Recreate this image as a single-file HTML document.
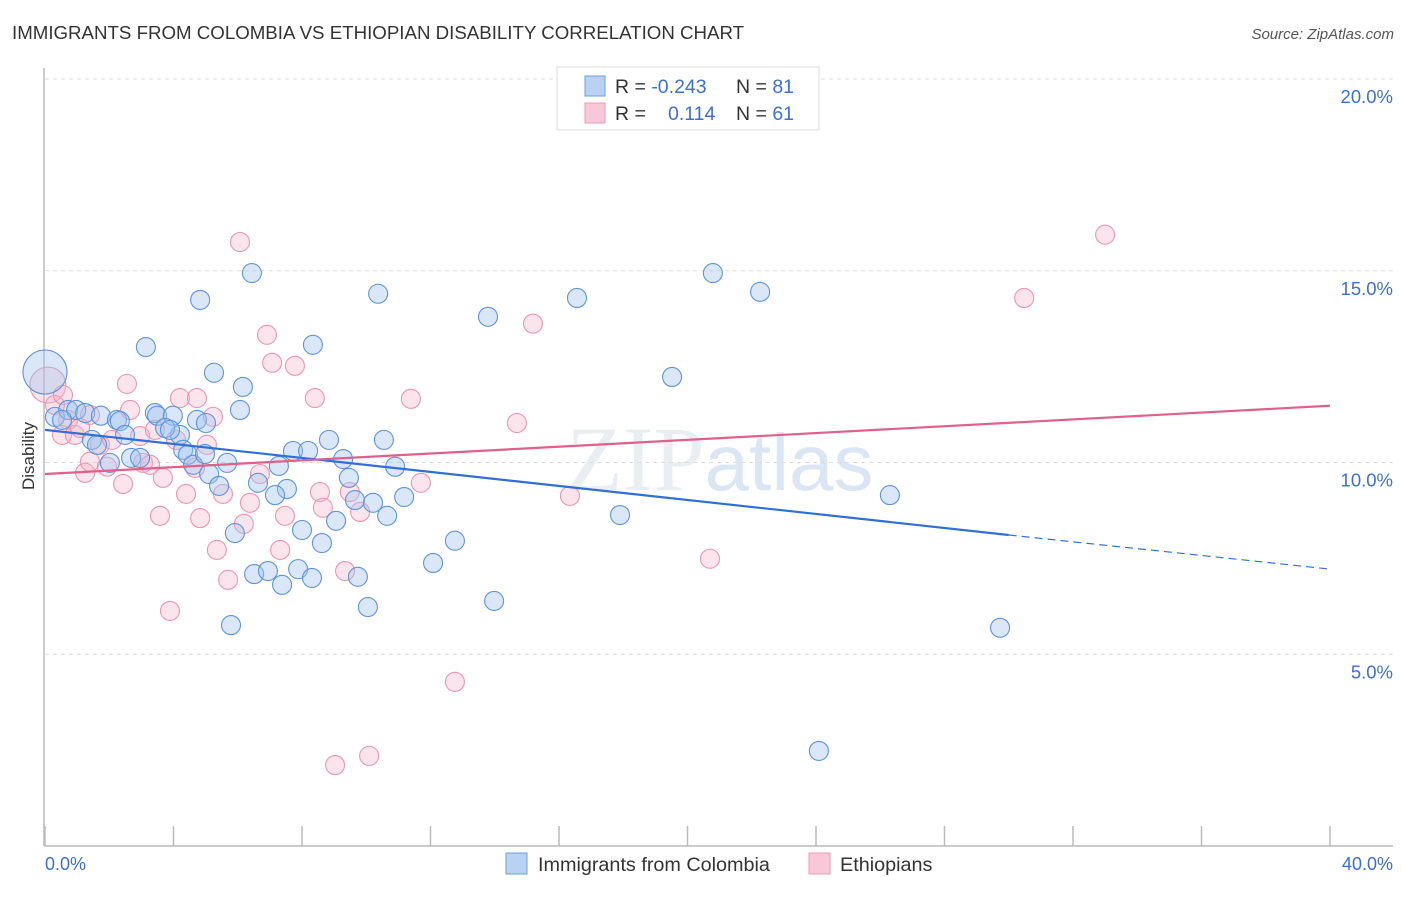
<!DOCTYPE html>
<html><head><meta charset="utf-8"><style>
body{margin:0;background:#fff;font-family:"Liberation Sans",sans-serif;}
</style></head><body>
<svg id="chart" width="1406" height="892" xmlns="http://www.w3.org/2000/svg" font-family="Liberation Sans, sans-serif">
<text x="12" y="39" font-size="18.7" fill="#333">IMMIGRANTS FROM COLOMBIA VS ETHIOPIAN DISABILITY CORRELATION CHART</text>
<text x="1394" y="39" font-size="15" font-style="italic" fill="#555" text-anchor="end">Source: ZipAtlas.com</text>
<text x="720" y="490" font-size="92" fill="#eaedf1" text-anchor="middle" font-family="Liberation Serif, serif">ZIP<tspan fill="#dbe6f4" font-family="Liberation Sans, sans-serif" font-size="80">atlas</tspan></text>
<g id="grid"></g>
<line x1="44" y1="68" x2="44" y2="846" stroke="#bbb" stroke-width="1.5"/>
<line x1="44" y1="846" x2="1393" y2="846" stroke="#bbb" stroke-width="1.5"/>
<text transform="translate(34,456) rotate(-90)" font-size="17" fill="#333" text-anchor="middle">Disability</text>
<text x="45" y="870" font-size="18" fill="#3d6fd0">0.0%</text>
<text x="1393" y="870" font-size="18" fill="#3d6fd0" text-anchor="end">40.0%</text>
<g id="pts"></g>
<g id="lines"></g>
<g>
<rect x="557" y="67" width="262" height="63" fill="#fff" stroke="#ddd"/>
<rect x="585" y="76" width="20" height="20" fill="#b9d2f4" stroke="#6d9ee0"/>
<rect x="585" y="103" width="20" height="20" fill="#f9c8d8" stroke="#ec9ab5"/>
<text x="615" y="93" font-size="19.5" fill="#333">R = <tspan fill="#3d6fd0">-0.243</tspan></text>
<text x="736" y="93" font-size="19.5" fill="#333">N = <tspan fill="#3d6fd0">81</tspan></text>
<text x="615" y="120" font-size="19.5" fill="#333">R = </text>
<text x="668" y="120" font-size="19.5" fill="#3d6fd0">0.114</text>
<text x="736" y="120" font-size="19.5" fill="#333">N = <tspan fill="#3d6fd0">61</tspan></text>
</g>
<g>
<rect x="506" y="853" width="21" height="21" fill="#b9d2f4" stroke="#6d9ee0"/>
<text x="538" y="871" font-size="19.8" fill="#333">Immigrants from Colombia</text>
</g>
<g>
<rect x="809" y="853" width="21" height="21" fill="#f9c8d8" stroke="#ec9ab5"/>
<text x="840" y="871" font-size="19.8" fill="#333">Ethiopians</text>
</g>
</svg>
<script>
const yTicks=[5,10,15,20];
const yTickLabels=["5.0%","10.0%","15.0%","20.0%"];
const blueX=[0.0,0.31,0.72,0.97,1.25,0.53,1.74,2.24,2.33,1.46,1.62,2.49,3.42,3.49,3.98,4.20,3.74,3.89,4.73,5.01,4.30,4.45,4.61,5.11,5.42,5.67,6.07,6.16,5.26,3.14,4.83,6.44,2.68,2.96,5.91,5.79,6.51,6.94,7.38,7.88,8.31,8.00,8.62,9.06,7.28,7.53,6.63,7.72,8.19,8.34,8.84,9.28,9.46,9.65,9.74,10.05,10.21,10.65,10.90,11.18,10.55,10.37,12.08,12.76,13.98,13.79,16.56,17.90,19.52,20.79,22.26,26.30,29.73,24.09,2.02,4.98,7.16];
const blueY=[12.36,11.19,11.37,11.37,11.29,11.11,11.22,11.11,11.08,10.59,10.46,10.72,11.29,11.22,11.22,10.72,10.90,10.85,11.11,11.03,10.33,10.20,9.94,9.70,9.39,9.99,11.37,11.97,12.34,13.01,14.24,14.94,10.12,10.12,8.16,5.76,7.09,7.17,6.81,7.22,6.99,8.24,7.90,8.48,9.91,9.31,9.47,10.30,10.30,13.07,10.59,10.09,9.60,9.02,7.02,6.23,8.95,8.61,9.89,9.10,10.59,14.40,7.38,7.96,6.39,13.80,14.29,8.63,12.23,14.94,14.45,9.15,5.69,2.48,9.99,10.22,9.15];
const pinkX=[0.09,0.31,0.53,0.72,0.93,1.09,1.25,1.40,1.71,1.93,2.09,2.43,2.55,2.96,3.05,3.27,3.58,3.67,3.89,4.20,4.39,4.73,4.83,5.04,5.23,5.35,5.54,5.70,6.07,6.19,6.38,6.69,6.91,7.07,7.32,7.47,7.78,8.40,8.56,8.65,9.03,9.34,9.49,9.81,10.09,11.39,11.70,12.76,14.69,15.19,16.34,20.70,30.48,33.00,4.67,1.40,2.65,4.08,3.42,0.56];
const pinkY=[12.02,11.50,10.72,11.11,10.72,10.90,9.73,10.02,10.46,9.89,10.59,9.44,12.05,10.69,9.99,9.94,8.61,9.60,6.13,11.68,9.18,11.68,8.55,10.46,11.19,7.72,9.18,6.94,15.75,8.40,8.95,9.70,13.33,12.60,7.72,8.61,12.52,11.68,9.23,8.82,2.11,7.17,9.23,8.71,2.35,11.66,9.47,4.28,11.03,13.62,9.13,7.49,14.29,15.94,9.86,11.24,11.37,10.59,10.85,11.76];
const blueTrend=[[0,10.85],[30,8.11],[40,7.22]];
const pinkTrend=[[0,9.70],[40,11.48]];
const NS="http://www.w3.org/2000/svg";
function sx(v){return 45+v/40*1285;}
function sy(v){return 846-v/20*767;}
function mk(tag,attrs,parent){const e=document.createElementNS(NS,tag);for(const k in attrs)e.setAttribute(k,attrs[k]);parent.appendChild(e);return e;}
const grid=document.getElementById('grid');
yTicks.forEach((t,i)=>{
  const l=mk('line',{x1:45,x2:1393,y1:sy(t),y2:sy(t),stroke:'#ddd','stroke-dasharray':'4,4'},grid);
  
  
  const tx=mk('text',{x:1393,y:sy(t)+24,'font-size':18.5,fill:'#3d6fd0','text-anchor':'end'},grid);
  tx.textContent=yTickLabels[i];
  
  
});
for(let i=0;i<=10;i++){
  const x=sx(i*4);
  const l=mk('line',{x1:x,x2:x,y1:826,y2:846,stroke:'#bbb','stroke-width':1.5},grid);
  
  
}
const pts=document.getElementById('pts');
pinkX.forEach((x,i)=>{
  const c=mk('circle',{cx:sx(x),cy:sy(pinkY[i]),r:i==0?18:9.5,fill:'rgba(246,178,200,0.35)',stroke:'#eb95b2','stroke-width':1.1},pts);
  
  
});
blueX.forEach((x,i)=>{
  const c=mk('circle',{cx:sx(x),cy:sy(blueY[i]),r:i==0?22:9.5,fill:'rgba(160,195,240,0.4)',stroke:'#5f93dc','stroke-width':1.1},pts);
  
  
});
const lines=document.getElementById('lines');
const bl=mk('line',{x1:sx(blueTrend[0][0]),y1:sy(blueTrend[0][1]),x2:sx(blueTrend[1][0]),y2:sy(blueTrend[1][1]),stroke:'#2f6fd6','stroke-width':2.2},lines);


const bd=mk('line',{x1:sx(blueTrend[1][0]),y1:sy(blueTrend[1][1]),x2:sx(blueTrend[2][0]),y2:sy(blueTrend[2][1]),stroke:'#2f6fd6','stroke-width':1.2,'stroke-dasharray':'8,5'},lines);


const pl=mk('line',{x1:sx(pinkTrend[0][0]),y1:sy(pinkTrend[0][1]),x2:sx(pinkTrend[1][0]),y2:sy(pinkTrend[1][1]),stroke:'#e0608a','stroke-width':2.2},lines);


</script>
</body></html>
